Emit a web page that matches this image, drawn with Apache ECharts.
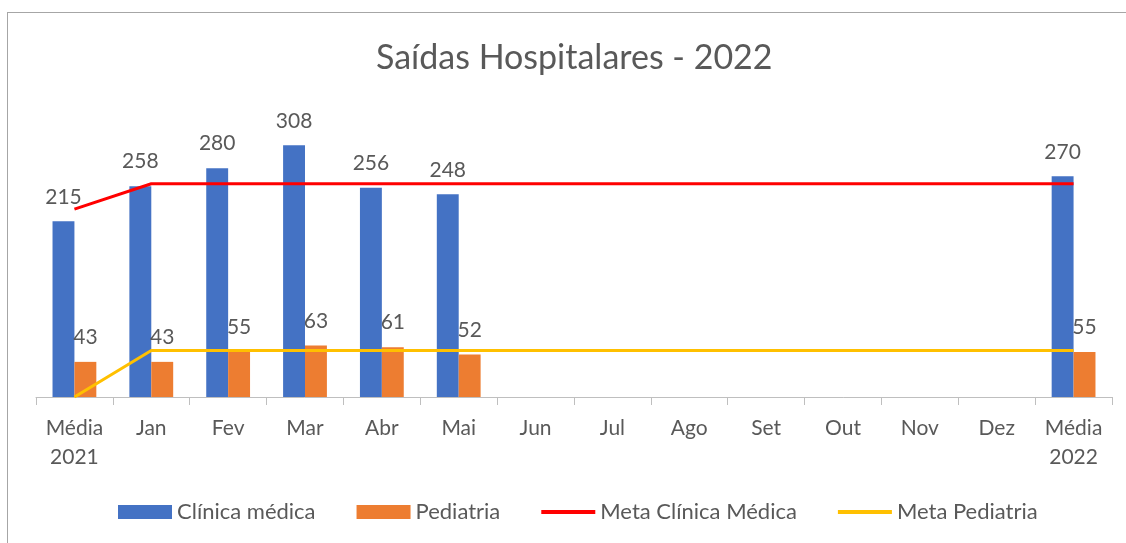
<!DOCTYPE html>
<html>
<head>
<meta charset="utf-8">
<script src="https://cdn.jsdelivr.net/npm/echarts@6/dist/echarts.min.js"></script>
<style>
  html, body { margin: 0; padding: 0; background: #fff; }
  #chart { width: 1126px; height: 543px; }
  /* moldura do gráfico (só topo e esquerda aparecem no recorte) */
  .frame {
    position: absolute; left: 7px; top: 12px; width: 1130px; height: 540px;
    border-top: 1px solid #a6a6a6; border-left: 1px solid #a6a6a6;
    pointer-events: none;
  }
</style>
</head>
<body>
<div class="frame"></div>
<div id="chart"></div>
<script>
// categorias do eixo x
const categories = ["Média\n2021", "Jan", "Fev", "Mar", "Abr", "Mai", "Jun", "Jul", "Ago", "Set", "Out", "Nov", "Dez", "Média\n2022"];
// saídas por mês
const clinicaMedica = [215, 258, 280, 308, 256, 248, "-", "-", "-", "-", "-", "-", "-", 270];
const pediatria = [43, 43, 55, 63, 61, 52, "-", "-", "-", "-", "-", "-", "-", 55];
// metas
const metaClinica = [230, 261, 261, 261, 261, 261, 261, 261, 261, 261, 261, 261, 261, 261];
const metaPediatria = [0, 57, 57, 57, 57, 57, 57, 57, 57, 57, 57, 57, 57, 57];

const fontFamily = "Lato, 'Noto Sans', sans-serif";
const textColor = "#595959";
// ícone de linha simples para a legenda
const lineIcon = "path://M0,0H54V4H0Z";

const chart = echarts.init(document.getElementById("chart"));
const option = {
  animation: false,
  textStyle: { fontFamily: fontFamily },
  title: {
    text: "Saídas Hospitalares - 2022",
    left: 371,
    top: 36,
    textStyle: { fontSize: 34, fontWeight: "normal", color: textColor, fontFamily: fontFamily },
  },
  grid: {
    left: 36,
    right: 14,
    top: 111,
    bottom: 146,
  },
  legend: {
    bottom: 15,
    left: 113,
    itemWidth: 54,
    itemHeight: 14,
    itemGap: 41,
    textStyle: { fontSize: 22, color: textColor, fontFamily: fontFamily },
    data: [
      { name: "Clínica médica", icon: "rect" },
      { name: "Pediatria", icon: "rect" },
      { name: "Meta Clínica Médica", icon: lineIcon },
      { name: "Meta Pediatria", icon: lineIcon },
    ],
  },
  xAxis: {
    type: "category",
    data: categories,
    axisLine: { lineStyle: { color: "#bfbfbf", width: 1 } },
    axisTick: { show: true, length: 8, lineStyle: { color: "#bfbfbf" } },
    axisLabel: {
      color: textColor,
      fontSize: 21,
      lineHeight: 29,
      margin: 17,
      interval: 0,
    },
  },
  yAxis: {
    type: "value",
    min: 0,
    max: 350,
    show: false,
    splitLine: { show: false },
  },
  series: [
    {
      name: "Clínica médica",
      type: "bar",
      data: clinicaMedica,
      barGap: "0%",
      barCategoryGap: "43%",
      itemStyle: { color: "#4472C4" },
      label: { show: true, position: "top", distance: 14, color: textColor, fontSize: 21 },
    },
    {
      name: "Pediatria",
      type: "bar",
      data: pediatria,
      itemStyle: { color: "#ED7D31" },
      label: { show: true, position: "top", distance: 14, color: textColor, fontSize: 21 },
    },
    {
      name: "Meta Clínica Médica",
      type: "line",
      data: metaClinica,
      symbol: "none",
      lineStyle: { color: "#FF0000", width: 3 },
      itemStyle: { color: "#FF0000" },
    },
    {
      name: "Meta Pediatria",
      type: "line",
      data: metaPediatria,
      symbol: "none",
      lineStyle: { color: "#FFC000", width: 3 },
      itemStyle: { color: "#FFC000" },
    },
  ],
};
chart.setOption(option);
</script>
</body>
</html>
